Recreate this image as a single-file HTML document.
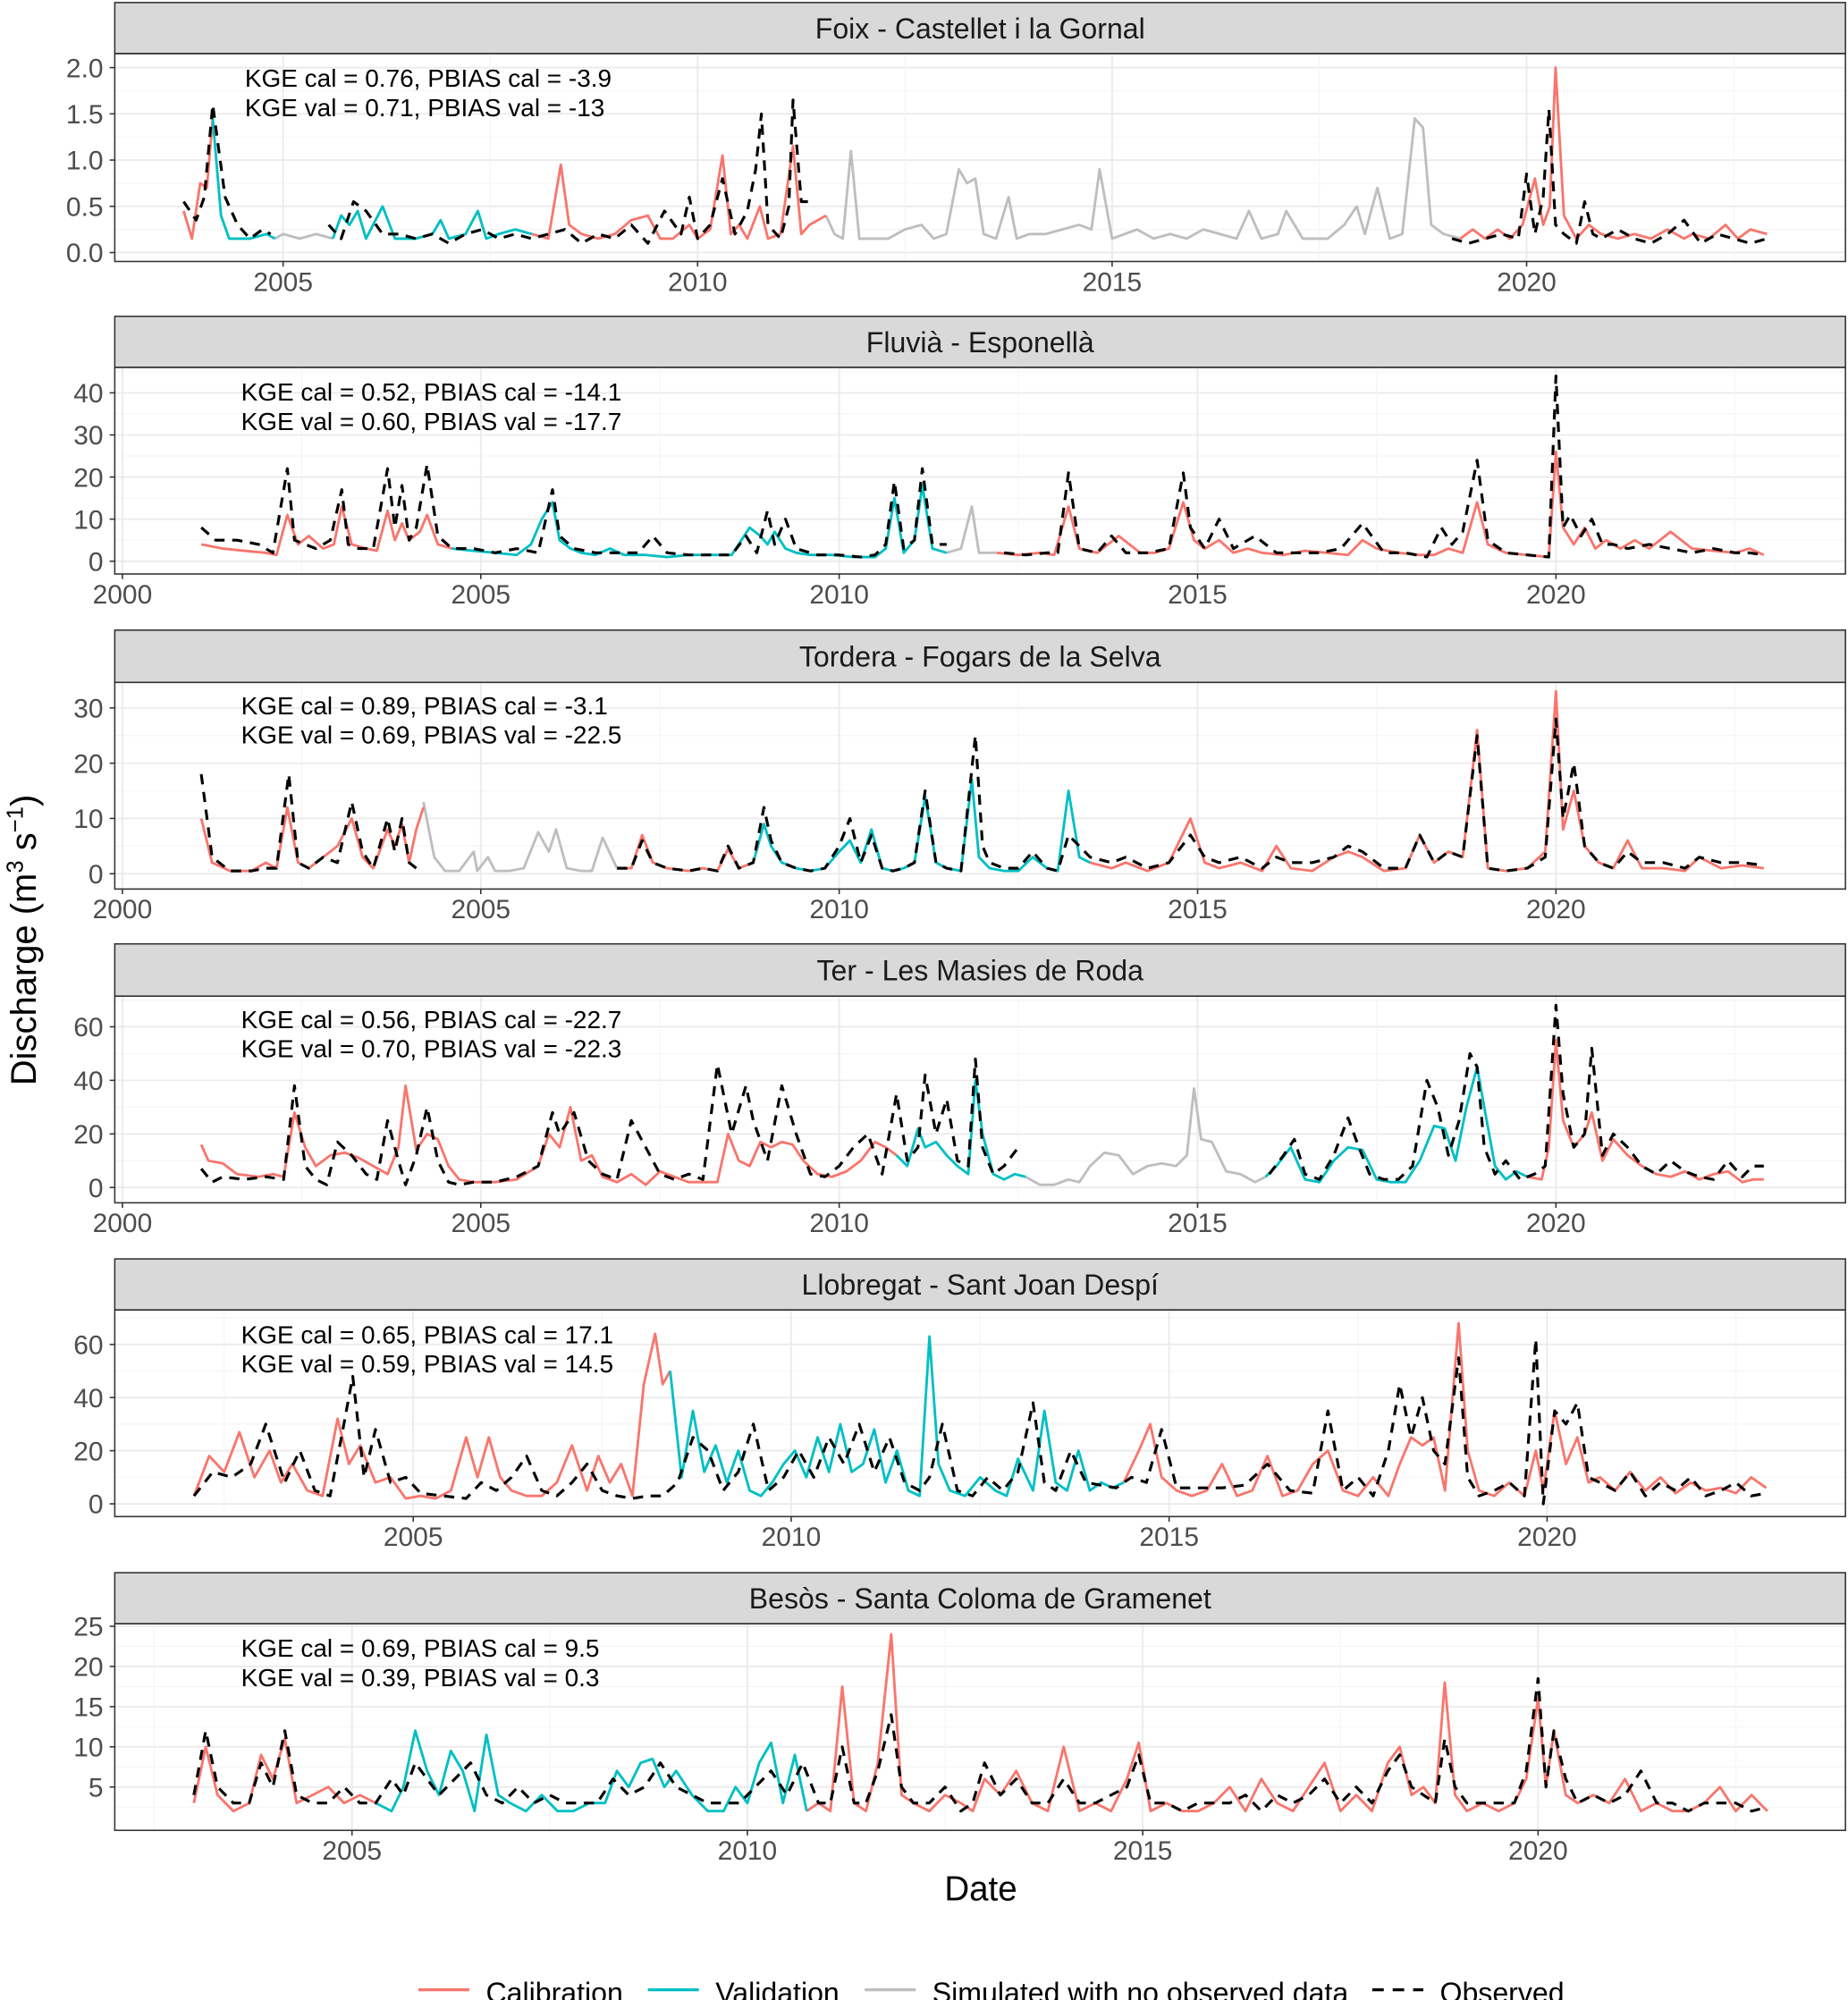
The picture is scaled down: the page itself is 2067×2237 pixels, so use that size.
<!DOCTYPE html>
<html><head><meta charset="utf-8"><style>
html,body{margin:0;padding:0;background:#fff;}
svg{display:block;font-family:"Liberation Sans",Arial,sans-serif;}
</style></head><body>
<svg id="chart" xmlns="http://www.w3.org/2000/svg" width="2067" height="2237" viewBox="0 0 1449 1568" preserveAspectRatio="none"></svg>
<script>
// ===== Data =====
const panelTitles = ["Foix - Castellet i la Gornal","Fluvià - Esponellà","Tordera - Fogars de la Selva","Ter - Les Masies de Roda","Llobregat - Sant Joan Despí","Besòs - Santa Coloma de Gramenet"];
const kgeCal = ["0.76","0.52","0.89","0.56","0.65","0.69"];
const pbiasCal = ["-3.9","-14.1","-3.1","-22.7","17.1","9.5"];
const kgeVal = ["0.71","0.60","0.69","0.70","0.59","0.39"];
const pbiasVal = ["-13","-17.7","-22.5","-22.3","14.5","0.3"];
const yTicks1 = [0,0.5,1,1.5,2];
const yTickLabels1 = ["0.0","0.5","1.0","1.5","2.0"];
const yTicks2 = [0,10,20,30,40];
const yTicks3 = [0,10,20,30];
const yTicks4 = [0,20,40,60];
const yTicks5 = [0,20,40,60];
const yTicks6 = [5,10,15,20,25];
const xTicksA = [2005,2010,2015,2020];
const xTicksB = [2000,2005,2010,2015,2020];

// Foix
const foixCalD=[2003.8,2003.9,2004.0,2004.08,2004.15,null,2008.0,2008.2,2008.35,2008.45,2008.6,2008.8,2009.0,2009.2,2009.4,2009.55,2009.7,2009.9,2010.0,2010.15,2010.3,2010.4,2010.5,2010.6,2010.75,2010.85,2011.0,2011.15,2011.25,2011.35,2011.45,2011.55,null,2019.2,2019.35,2019.5,2019.65,2019.8,2019.95,2020.1,2020.2,2020.28,2020.35,2020.45,2020.6,2020.75,2020.9,2021.1,2021.3,2021.5,2021.7,2021.9,2022.0,2022.2,2022.4,2022.55,2022.7,2022.9];
const foixCalV=[0.45,0.15,0.75,0.7,1.45,null,0.2,0.15,0.95,0.3,0.2,0.15,0.2,0.35,0.4,0.15,0.15,0.3,0.15,0.25,1.05,0.2,0.3,0.15,0.5,0.15,0.2,1.15,0.2,0.3,0.35,0.4,null,0.15,0.25,0.15,0.25,0.15,0.3,0.8,0.3,0.5,2.0,0.4,0.15,0.3,0.2,0.15,0.2,0.15,0.25,0.15,0.2,0.15,0.3,0.15,0.25,0.2];
const foixValD=[2004.15,2004.25,2004.35,2004.6,2004.8,2004.9,null,2005.6,2005.7,2005.8,2005.9,2006.0,2006.2,2006.35,2006.6,2006.8,2006.9,2007.0,2007.2,2007.35,2007.45,2007.6,2007.8,2008.0];
const foixValV=[1.45,0.4,0.15,0.15,0.2,0.15,null,0.15,0.4,0.3,0.45,0.15,0.5,0.15,0.15,0.2,0.35,0.15,0.2,0.45,0.15,0.2,0.25,0.2];
const foixGrayD=[2004.9,2005.0,2005.2,2005.4,2005.6,null,2011.55,2011.65,2011.75,2011.85,2011.95,2012.1,2012.3,2012.5,2012.7,2012.85,2013.0,2013.15,2013.25,2013.35,2013.45,2013.6,2013.75,2013.85,2014.0,2014.2,2014.4,2014.6,2014.75,2014.85,2015.0,2015.3,2015.5,2015.7,2015.9,2016.1,2016.3,2016.5,2016.65,2016.8,2017.0,2017.1,2017.3,2017.6,2017.8,2017.95,2018.05,2018.2,2018.35,2018.5,2018.65,2018.75,2018.85,2019.0,2019.2];
const foixGrayV=[0.15,0.2,0.15,0.2,0.15,null,0.4,0.2,0.15,1.1,0.15,0.15,0.15,0.25,0.3,0.15,0.2,0.9,0.75,0.8,0.2,0.15,0.6,0.15,0.2,0.2,0.25,0.3,0.25,0.9,0.15,0.25,0.15,0.2,0.15,0.25,0.2,0.15,0.45,0.15,0.2,0.45,0.15,0.15,0.3,0.5,0.2,0.7,0.15,0.2,1.45,1.35,0.3,0.2,0.15];
const foixObsD=[2003.8,2003.95,2004.05,2004.15,2004.3,2004.45,2004.6,2004.75,2004.85,null,2005.55,2005.7,2005.85,2006.0,2006.2,2006.4,2006.6,2006.8,2007.0,2007.2,2007.4,2007.6,2007.8,2008.0,2008.2,2008.4,2008.6,2008.8,2009.0,2009.2,2009.4,2009.6,2009.8,2009.9,2010.0,2010.15,2010.3,2010.45,2010.6,2010.7,2010.77,2010.85,2011.0,2011.1,2011.15,2011.25,2011.4,null,2019.1,2019.3,2019.5,2019.7,2019.9,2020.0,2020.1,2020.2,2020.27,2020.35,2020.45,2020.6,2020.7,2020.8,2020.9,2021.1,2021.3,2021.5,2021.7,2021.9,2022.1,2022.3,2022.5,2022.7,2022.9];
const foixObsV=[0.55,0.35,0.6,1.6,0.6,0.3,0.15,0.25,0.2,null,0.3,0.15,0.55,0.45,0.2,0.2,0.15,0.2,0.1,0.2,0.25,0.15,0.2,0.15,0.2,0.25,0.1,0.2,0.15,0.3,0.1,0.45,0.2,0.6,0.15,0.3,0.8,0.2,0.45,0.9,1.5,0.3,0.15,0.5,1.65,0.55,0.55,null,0.15,0.1,0.15,0.2,0.15,0.85,0.2,0.6,1.55,0.3,0.2,0.1,0.55,0.2,0.15,0.25,0.15,0.1,0.2,0.35,0.1,0.2,0.15,0.1,0.15];

// Fluvia
const fluCalD=[2001.1,2001.4,2001.7,2002.0,2002.15,2002.3,2002.45,2002.6,2002.8,2002.95,2003.06,2003.2,2003.4,2003.55,2003.7,2003.8,2003.9,2004.0,2004.15,2004.25,2004.4,2004.6,null,2012.2,2012.5,2012.8,2013.0,2013.2,2013.35,2013.6,2013.9,2014.2,2014.4,2014.6,2014.8,2014.95,2015.1,2015.3,2015.5,2015.7,2015.9,2016.2,2016.5,2016.8,2017.1,2017.3,2017.5,2017.8,2018.1,2018.3,2018.5,2018.7,2018.9,2019.05,2019.3,2019.6,2019.9,2020.0,2020.1,2020.25,2020.4,2020.55,2020.7,2020.9,2021.1,2021.3,2021.6,2021.9,2022.2,2022.5,2022.7,2022.9];
const fluCalV=[4,3,2.5,2,1.5,11,4,6,3,4,13,4,3,2.5,12,5,9,5,7,11,4,3,null,2,1.5,2,1.5,13,3,2,6,2,2,3,14,5,3,5,2,3,2,1.5,2.5,2,1.5,5,3,2,1.5,1.5,3,2,14,4,2,1.5,1,26,8,4,8,3,5,3,5,3,7,3,2.5,2,3,1.5];
const fluValD=[2004.6,2004.9,2005.2,2005.5,2005.7,2005.85,2006.0,2006.1,2006.25,2006.4,2006.6,2006.8,2007.0,2007.3,2007.6,2007.9,2008.2,2008.5,2008.75,2008.9,2009.0,2009.1,2009.25,2009.4,2009.6,2009.9,2010.2,2010.5,2010.65,2010.77,2010.9,2011.05,2011.16,2011.3,2011.5];
const fluValV=[3,2.5,2,1.5,4,10,14,5,3,2,1.5,3,1.5,1.5,1,1.5,1.5,1.5,8,6,4,7,3,2,1.5,1.5,1,1,3,15,2,5,18,3,2];
const fluGrayD=[2011.5,2011.7,2011.85,2011.95,2012.2];
const fluGrayV=[2,3,13,2,2];
const fluObsD=[2001.1,2001.3,2001.6,2001.9,2002.1,2002.3,2002.4,2002.55,2002.7,2002.9,2003.06,2003.15,2003.3,2003.5,2003.7,2003.8,2003.9,2004.0,2004.1,2004.25,2004.4,2004.6,2004.9,2005.2,2005.5,2005.8,2006.0,2006.1,2006.3,2006.6,2006.9,2007.2,2007.4,2007.6,2007.9,2008.2,2008.5,2008.7,2008.85,2009.0,2009.1,2009.25,2009.4,2009.7,2010.0,2010.3,2010.5,2010.65,2010.77,2010.9,2011.05,2011.16,2011.3,2011.5,null,2012.3,2012.6,2012.9,2013.05,2013.2,2013.35,2013.6,2013.8,2014.0,2014.3,2014.6,2014.8,2014.9,2015.1,2015.3,2015.5,2015.8,2016.1,2016.4,2016.7,2017.0,2017.3,2017.6,2017.9,2018.2,2018.4,2018.55,2018.7,2018.9,2019.05,2019.3,2019.6,2019.9,2020.0,2020.1,2020.2,2020.35,2020.5,2020.65,2020.8,2021.0,2021.3,2021.6,2021.9,2022.2,2022.5,2022.7,2022.9];
const fluObsV=[8,5,5,4,2,22,5,4,3,5,17,4,3,3,22,8,18,5,8,23,6,3,3,2,3,2,17,6,3,2,2,2,6,2,1.5,1.5,1.5,6,2,12,4,10,3,1.5,1.5,1,1.5,4,19,3,5,22,4,4,null,2,1.5,2,2,21,3,2,6,2,2,3,21,8,3,10,3,6,2,2,2,3,9,2,2,1,8,4,7,24,5,2,1.5,1,44,8,11,6,10,4,4,3,4,3,2,3,2,2,1.5];

// Tordera
const torCalD=[2001.1,2001.25,2001.5,2001.8,2002.0,2002.15,2002.3,2002.45,2002.6,2002.8,2003.0,2003.2,2003.35,2003.5,2003.7,2003.8,2003.9,2004.0,2004.1,2004.2,null,2006.9,2007.1,2007.25,2007.4,2007.6,2007.9,2008.1,2008.3,2008.45,2008.6,2008.8,null,2013.5,2013.8,2014.0,2014.3,2014.6,2014.9,2015.1,2015.3,2015.6,2015.9,2016.1,2016.3,2016.6,2016.9,2017.1,2017.3,2017.6,2017.9,2018.1,2018.3,2018.5,2018.7,2018.9,2019.05,2019.3,2019.6,2019.85,2020.0,2020.1,2020.25,2020.4,2020.6,2020.8,2021.0,2021.2,2021.5,2021.8,2022.0,2022.3,2022.6,2022.9];
const torCalV=[10,2,0.5,0.5,2,1,12,2,1,3,5,10,3,1,8,5,9,2,8,12,null,1,1,7,2,1,0.5,1,0.5,4.5,1,2,null,2,1,2,0.5,2,10,2,1,2,0.5,5,1,0.5,3,4,3,0.5,1,7,2,4,3,26,1,0.5,1,4,33,8,15,5,2,1,6,1,1,0.5,3,1,1.5,1];
const torValD=[2008.8,2008.95,2009.05,2009.2,2009.4,2009.6,2009.8,2010.0,2010.15,2010.3,2010.45,2010.6,2010.75,2010.9,2011.05,2011.2,2011.35,2011.5,2011.7,2011.85,2011.95,2012.1,2012.3,2012.5,2012.7,2012.9,2013.05,2013.2,2013.35,2013.5];
const torValV=[2,9,5,2,1,0.5,1,4,6,2,8,1,0.5,1,2,14,2,1,0.5,17,3,1,0.5,0.5,3,1,0.5,15,3,2];
const torGrayD=[2004.2,2004.35,2004.5,2004.7,2004.9,2004.95,2005.1,2005.2,2005.4,2005.6,2005.8,2005.95,2006.05,2006.2,2006.4,2006.55,2006.7,2006.9];
const torGrayV=[13,3,0.5,0.5,4,0.5,3,0.5,0.5,1,7.5,4,8,1,0.5,0.5,6.5,1];
const torObsD=[2001.1,2001.25,2001.5,2001.8,2002.0,2002.15,2002.32,2002.45,2002.6,2002.8,2003.0,2003.2,2003.35,2003.5,2003.7,2003.8,2003.9,2004.0,2004.1,null,2006.9,2007.1,2007.25,2007.4,2007.6,2007.9,2008.1,2008.3,2008.45,2008.6,2008.8,2008.95,2009.05,2009.2,2009.4,2009.6,2009.8,2010.0,2010.15,2010.3,2010.45,2010.6,2010.75,2010.9,2011.05,2011.2,2011.35,2011.5,2011.7,2011.9,2012.0,2012.1,2012.3,2012.5,2012.7,2012.9,2013.05,2013.2,2013.35,2013.5,2013.8,2014.0,2014.3,2014.6,2014.9,2015.1,2015.3,2015.6,2015.9,2016.1,2016.3,2016.6,2016.9,2017.1,2017.3,2017.6,2017.9,2018.1,2018.3,2018.5,2018.7,2018.9,2019.05,2019.3,2019.6,2019.85,2020.0,2020.1,2020.25,2020.4,2020.6,2020.8,2021.0,2021.2,2021.5,2021.8,2022.0,2022.3,2022.6,2022.9];
const torObsV=[18,3,0.5,0.5,1,1,18,2,1,3,2,13,4,1,10,4,10,2,1,null,1,1,6,2,1,0.5,1,0.5,5,1,2,12,6,2,1,0.5,1,5,10,2,7,1,0.5,1,2,15,2,1,0.5,25,5,2,1,1,4,1,0.5,7,5,3,2,3,1,2,7,3,2,3,1,3,2,2,3,5,4,1,1,7,2,4,3,25,1,0.5,1,3,28,10,20,5,2,1,4,2,2,1,3,2,2,1.5];

// Ter
const terCalD=[2001.1,2001.2,2001.4,2001.6,2001.9,2002.1,2002.25,2002.4,2002.55,2002.7,2002.9,2003.1,2003.3,2003.5,2003.7,2003.85,2003.95,2004.1,2004.25,2004.4,2004.55,2004.7,2004.9,2005.2,2005.5,2005.8,2005.95,2006.1,2006.25,2006.4,2006.55,2006.7,2006.9,2007.1,2007.3,2007.5,2007.7,2007.9,2008.1,2008.3,2008.45,2008.6,2008.75,2008.9,2009.05,2009.2,2009.35,2009.5,2009.7,2009.9,2010.1,2010.3,2010.5,2010.65,2010.8,null,2019.6,2019.8,2019.9,2020.0,2020.1,2020.25,2020.4,2020.5,2020.65,2020.8,2021.0,2021.2,2021.4,2021.6,2021.8,2022.0,2022.2,2022.4,2022.6,2022.75,2022.9];
const terCalV=[16,10,9,5,4,5,4,28,15,8,12,13,11,8,5,15,38,14,20,18,8,3,2,2,3,8,20,15,30,10,12,4,2,5,1,6,4,2,2,2,20,10,8,17,15,17,16,10,5,4,6,10,17,15,12,null,4,3,15,55,25,15,20,28,10,18,12,8,5,4,6,3,5,6,2,3,3];
const terValD=[2010.8,2010.95,2011.1,2011.2,2011.35,2011.5,2011.65,2011.8,2011.9,2012.0,2012.15,2012.3,2012.45,2012.6,null,2015.95,2016.1,2016.3,2016.5,2016.7,2016.9,2017.1,2017.3,2017.5,2017.7,2017.9,2018.1,2018.3,2018.45,2018.6,2018.75,2018.9,2019.0,2019.15,2019.3,2019.45,2019.6];
const terValV=[12,8,22,15,17,12,8,5,40,20,5,3,5,4,null,4,8,15,3,2,10,15,14,3,2,2,10,23,22,10,30,45,30,8,3,6,4];
const terGrayD=[2012.6,2012.8,2013.0,2013.2,2013.35,2013.5,2013.7,2013.9,2014.1,2014.3,2014.5,2014.7,2014.85,2014.95,2015.05,2015.2,2015.4,2015.6,2015.8,2015.95];
const terGrayV=[4,1,1,3,2,8,13,12,5,8,9,8,12,37,18,17,6,5,2,4];
const terObsD=[2001.1,2001.25,2001.4,2001.7,2002.0,2002.25,2002.4,2002.55,2002.7,2002.85,2003.0,2003.2,2003.4,2003.55,2003.7,2003.85,2003.95,2004.1,2004.25,2004.4,2004.55,2004.7,2004.9,2005.2,2005.5,2005.8,2006.0,2006.1,2006.3,2006.5,2006.7,2006.9,2007.1,2007.3,2007.5,2007.7,2007.9,2008.1,2008.3,2008.5,2008.7,2008.8,2009.0,2009.2,2009.4,2009.6,2009.8,2010.0,2010.2,2010.4,2010.6,2010.8,2010.95,2011.1,2011.2,2011.35,2011.5,2011.65,2011.8,2011.9,2012.0,2012.15,2012.3,2012.5,null,2016.0,2016.2,2016.35,2016.5,2016.7,2016.9,2017.1,2017.25,2017.4,2017.6,2017.8,2018.0,2018.2,2018.35,2018.5,2018.65,2018.8,2018.9,2019.0,2019.15,2019.3,2019.5,2019.7,2019.85,2020.0,2020.1,2020.25,2020.4,2020.5,2020.65,2020.8,2021.0,2021.2,2021.4,2021.6,2021.8,2022.0,2022.2,2022.4,2022.6,2022.75,2022.9];
const terObsV=[7,2,4,3,4,3,38,8,3,1,17,12,5,3,25,10,1,12,30,10,2,1,2,2,4,8,28,20,28,10,5,3,25,15,5,3,5,3,46,20,38,25,10,38,20,5,4,8,15,20,5,35,10,15,42,20,33,10,8,48,15,5,8,15,null,5,12,18,5,3,12,26,15,5,3,3,8,40,30,12,25,50,45,15,5,10,3,5,8,68,35,15,20,52,12,20,15,8,5,10,6,4,3,10,4,8,8];

// Llobregat
const lloCalD=[2002.1,2002.3,2002.5,2002.7,2002.9,2003.1,2003.25,2003.4,2003.6,2003.8,2004.0,2004.15,2004.3,2004.5,2004.7,2004.9,2005.1,2005.3,2005.5,2005.7,2005.85,2006.0,2006.15,2006.3,2006.5,2006.7,2006.9,2007.1,2007.3,2007.45,2007.6,2007.75,2007.9,2008.05,2008.2,2008.3,2008.4,null,2014.4,2014.6,2014.75,2014.9,2015.1,2015.3,2015.5,2015.7,2015.9,2016.1,2016.3,2016.5,2016.7,2016.9,2017.1,2017.3,2017.5,2017.7,2017.9,2018.05,2018.2,2018.35,2018.5,2018.65,2018.83,2018.95,2019.1,2019.3,2019.5,2019.7,2019.85,2019.95,2020.1,2020.25,2020.4,2020.55,2020.7,2020.9,2021.1,2021.3,2021.5,2021.7,2021.9,2022.1,2022.3,2022.5,2022.7,2022.9];
const lloCalV=[3,18,12,27,10,20,8,15,5,3,32,15,22,8,10,2,3,2,5,25,10,25,10,5,3,3,8,22,5,18,8,15,3,45,64,45,50,null,8,20,30,10,5,3,5,15,3,5,18,3,5,15,20,5,3,10,3,15,25,22,25,5,68,20,5,3,8,3,20,5,35,15,25,8,10,5,12,5,10,4,8,5,6,4,10,6];
const lloValD=[2008.4,2008.55,2008.7,2008.85,2009.0,2009.15,2009.3,2009.45,2009.6,2009.75,2009.9,2010.05,2010.2,2010.35,2010.5,2010.65,2010.8,2010.95,2011.1,2011.25,2011.4,2011.55,2011.7,2011.83,2011.95,2012.1,2012.3,2012.5,2012.7,2012.85,2013.0,2013.2,2013.35,2013.5,2013.65,2013.8,2013.95,2014.1,2014.25,2014.4];
const lloValV=[50,10,35,12,22,8,20,5,3,8,15,20,10,25,12,30,12,15,28,8,20,5,3,63,15,5,3,10,5,3,17,5,35,8,5,20,5,8,6,8];
const lloObsD=[2002.1,2002.35,2002.6,2002.85,2003.05,2003.3,2003.5,2003.7,2003.9,2004.05,2004.2,2004.35,2004.5,2004.7,2004.9,2005.1,2005.4,2005.7,2005.9,2006.1,2006.3,2006.5,2006.7,2006.9,2007.1,2007.3,2007.5,2007.7,2007.9,2008.1,2008.3,2008.5,2008.7,2008.9,2009.1,2009.3,2009.5,2009.7,2009.9,2010.1,2010.3,2010.5,2010.7,2010.9,2011.1,2011.3,2011.5,2011.7,2011.83,2012.0,2012.2,2012.4,2012.6,2012.8,2013.0,2013.2,2013.35,2013.5,2013.7,2013.9,2014.1,2014.3,2014.5,2014.7,2014.9,2015.1,2015.4,2015.7,2016.0,2016.3,2016.6,2016.9,2017.1,2017.3,2017.5,2017.7,2017.9,2018.05,2018.2,2018.35,2018.5,2018.65,2018.83,2018.95,2019.1,2019.3,2019.5,2019.7,2019.85,2019.95,2020.1,2020.25,2020.4,2020.55,2020.7,2020.9,2021.1,2021.3,2021.5,2021.7,2021.9,2022.1,2022.3,2022.5,2022.7,2022.9];
const lloObsV=[3,12,10,15,30,8,20,5,3,25,48,10,28,8,10,4,3,2,8,5,10,18,5,3,8,15,5,3,2,3,3,8,25,20,5,12,30,5,10,20,10,25,15,30,12,25,8,5,10,30,5,3,10,5,12,38,8,5,20,8,7,6,10,8,28,6,6,6,7,15,5,4,35,5,10,3,20,45,25,40,20,15,55,10,3,5,8,3,62,0,35,30,38,10,8,5,12,3,8,5,10,3,5,8,3,4];

// Besos
const besCalD=[2003.0,2003.15,2003.3,2003.5,2003.7,2003.85,2004.0,2004.15,2004.3,2004.5,2004.7,2004.9,2005.1,2005.3,null,2010.75,2010.9,2011.05,2011.2,2011.35,2011.5,2011.65,2011.82,2011.95,2012.1,2012.3,2012.5,2012.7,2012.85,2013.0,2013.2,2013.4,2013.6,2013.8,2014.0,2014.2,2014.4,2014.6,2014.8,2014.95,2015.1,2015.3,2015.5,2015.7,2015.9,2016.1,2016.3,2016.5,2016.7,2016.9,2017.1,2017.3,2017.5,2017.7,2017.9,2018.1,2018.25,2018.4,2018.55,2018.7,2018.82,2018.95,2019.1,2019.3,2019.5,2019.7,2019.85,2020.0,2020.1,2020.2,2020.35,2020.5,2020.7,2020.9,2021.1,2021.3,2021.5,2021.7,2021.9,2022.1,2022.3,2022.5,2022.7,2022.9];
const besCalV=[3,10,4,2,3,9,6,11,3,4,5,3,4,3,null,2,3,2,17.5,3,2,8,24,4,3,2,4,3,2,6,4,7,3,2,10,2,3,2,6,10.5,2,3,2,2,3,5,2,6,3,2,5,8,2,4,2,8,10,4,5,3,18,4,2,3,2,3,6,16,5,12,4,3,4,3,6,2,3,2,2,3,5,2,4,2];
const besValD=[2005.3,2005.5,2005.65,2005.8,2005.95,2006.1,2006.25,2006.4,2006.55,2006.7,2006.85,2007.0,2007.2,2007.4,2007.6,2007.8,2008.0,2008.2,2008.35,2008.5,2008.65,2008.8,2008.95,2009.1,2009.3,2009.5,2009.7,2009.85,2010.0,2010.15,2010.3,2010.45,2010.6,2010.75];
const besValV=[3,2,5,12,7,4,9.5,7,2,11.5,4,3,2,4,2,2,3,3,7,5,8,8.5,5,7,4,2,2,5,3,8,10.5,3,9,2];
const besObsD=[2003.0,2003.15,2003.3,2003.5,2003.7,2003.85,2004.0,2004.15,2004.3,2004.5,2004.7,2004.9,2005.1,2005.3,2005.5,2005.65,2005.8,2005.95,2006.1,2006.3,2006.5,2006.7,2006.9,2007.1,2007.3,2007.5,2007.7,2007.9,2008.1,2008.3,2008.5,2008.7,2008.9,2009.1,2009.3,2009.5,2009.7,2009.9,2010.1,2010.3,2010.5,2010.7,2010.9,2011.05,2011.2,2011.35,2011.5,2011.65,2011.82,2011.95,2012.1,2012.3,2012.5,2012.7,2012.85,2013.0,2013.2,2013.4,2013.6,2013.8,2014.0,2014.2,2014.4,2014.6,2014.8,2014.95,2015.1,2015.3,2015.5,2015.7,2015.9,2016.1,2016.3,2016.5,2016.7,2016.9,2017.1,2017.3,2017.5,2017.7,2017.9,2018.1,2018.25,2018.4,2018.55,2018.7,2018.82,2018.95,2019.1,2019.3,2019.5,2019.7,2019.85,2020.0,2020.1,2020.2,2020.35,2020.5,2020.7,2020.9,2021.1,2021.3,2021.5,2021.7,2021.9,2022.1,2022.3,2022.5,2022.7,2022.9];
const besObsV=[4,12,5,3,3,8,5,12,4,3,3,5,3,3,6,4,8,6,4,6,8,4,3,5,3,4,3,3,3,6,4,5,8,5,4,3,3,3,5,7,4,8,3,3,10,3,3,7,14,5,3,3,5,2,3,8,4,6,3,3,6,3,3,4,5,9,3,3,2,3,3,3,4,2,4,3,4,6,3,5,3,7,9,5,4,3,11,5,3,3,3,3,7,18.5,5,12,6,3,4,3,4,7,3,3,2,3,3,3,2,2.5];

// ===== Layout =====
const panels = [
 {st:2, pt:42, pb:205, xr:2005, xp:222, xs:65, y0:198, ys:72.5, yt:yTicks1, ytl:yTickLabels1, xt:xTicksA, ax:192,
  series:[[foixGrayD,foixGrayV,'gray'],[foixCalD,foixCalV,'cal'],[foixValD,foixValV,'val'],[foixObsD,foixObsV,'obs']]},
 {st:248, pt:288, pb:450, xr:2000, xp:96, xs:56.2, y0:440, ys:3.3, yt:yTicks2, xt:xTicksB, ax:189,
  series:[[fluGrayD,fluGrayV,'gray'],[fluCalD,fluCalV,'cal'],[fluValD,fluValV,'val'],[fluObsD,fluObsV,'obs']]},
 {st:494, pt:535, pb:697, xr:2000, xp:96, xs:56.2, y0:685, ys:4.333, yt:yTicks3, xt:xTicksB, ax:189,
  series:[[torGrayD,torGrayV,'gray'],[torCalD,torCalV,'cal'],[torValD,torValV,'val'],[torObsD,torObsV,'obs']]},
 {st:740, pt:781, pb:943, xr:2000, xp:96, xs:56.2, y0:931, ys:2.1, yt:yTicks4, xt:xTicksB, ax:189,
  series:[[terGrayD,terGrayV,'gray'],[terCalD,terCalV,'cal'],[terValD,terValV,'val'],[terObsD,terObsV,'obs']]},
 {st:987, pt:1027, pb:1189, xr:2005, xp:324, xs:59.27, y0:1179, ys:2.083, yt:yTicks5, xt:xTicksA, ax:189,
  series:[[lloCalD,lloCalV,'cal'],[lloValD,lloValV,'val'],[lloObsD,lloObsV,'obs']]},
 {st:1233, pt:1273, pb:1435, xr:2005, xp:276, xs:62, y0:1432.5, ys:6.3, yt:yTicks6, xt:xTicksA, ax:189,
  series:[[besCalD,besCalV,'cal'],[besValD,besValV,'val'],[besObsD,besObsV,'obs']]}
];
const X0=90, X1=1447;
const colors={cal:'#F8766D',val:'#00BFC4',gray:'#BEBEBE',obs:'#000000'};
const svg=document.getElementById('chart');
const NS='http://www.w3.org/2000/svg';
function mk(tag,attrs,parent){const e=document.createElementNS(NS,tag);for(const k in attrs)e.setAttribute(k,attrs[k]);(parent||svg).appendChild(e);return e;}

const defs=mk('defs',{});
panels.forEach((p,i)=>{
  const xScale=y=>p.xp+(y-p.xr)*p.xs;
  const yScale=v=>p.y0-v*p.ys;
  const g=mk('g',{});
  
  
  const cp=mk('clipPath',{id:'clip'+i},defs);
  mk('rect',{x:X0,y:p.pt,width:X1-X0,height:p.pb-p.pt},cp);
  const strip=mk('rect',{x:X0,y:p.st,width:X1-X0,height:p.pt-p.st,fill:'#D9D9D9',stroke:'#333333','stroke-width':1.1},g);
  
  
  const st=mk('text',{x:(X0+X1)/2,y:(p.st+p.pt)/2+8,'text-anchor':'middle','font-size':22.5,fill:'#1A1A1A'},g);
  st.textContent=panelTitles[i];
  
  
  const gg=mk('g',{'clip-path':'url(#clip'+i+')'},g);
  
  
  const step=p.yt[1]-p.yt[0];
  for(let k=0;k<p.yt.length;k++){
    const v=p.yt[k];
    mk('line',{x1:X0,x2:X1,y1:yScale(v),y2:yScale(v),stroke:'#EBEBEB','stroke-width':1.3},gg);
    for(const m of [v-step/2,v+step/2]){
      if(k>0&&m===v-step/2)continue;
      mk('line',{x1:X0,x2:X1,y1:yScale(m),y2:yScale(m),stroke:'#F5F5F5','stroke-width':0.8},gg);
    }
  }
  for(let yr=1995;yr<=2025;yr+=2.5){
    const major=(yr%5===0);
    mk('line',{x1:xScale(yr),x2:xScale(yr),y1:p.pt,y2:p.pb,stroke:major?'#EBEBEB':'#F5F5F5','stroke-width':major?1.3:0.8},gg);
  }
  const sg=mk('g',{'clip-path':'url(#clip'+i+')'},g);
  p.series.forEach(s=>{
    const D=s[0],V=s[1],t=s[2];
    const n=Math.min(D.length,V.length);
    let d='',pen=false;
    for(let j=0;j<n;j++){
      if(D[j]===null||V[j]===null){pen=false;continue;}
      d+=(pen?'L':'M')+xScale(D[j]).toFixed(1)+','+yScale(V[j]).toFixed(1);
      pen=true;
    }
    const path=mk('path',{d:d,fill:'none',stroke:colors[t],'stroke-width':t==='obs'?2.2:2,'stroke-linejoin':'round'},sg);
    if(t==='obs')path.setAttribute('stroke-dasharray','8,6');
    
    
  });
  mk('rect',{x:X0,y:p.pt,width:X1-X0,height:p.pb-p.pt,fill:'none',stroke:'#333333','stroke-width':1.1},g);
  p.yt.forEach((v,k)=>{
    const y=yScale(v);
    mk('line',{x1:X0-4,x2:X0,y1:y,y2:y,stroke:'#333','stroke-width':1.1},g);
    const t=mk('text',{x:X0-9,y:y+7.5,'text-anchor':'end','font-size':21,fill:'#4D4D4D'},g);
    t.textContent=p.ytl?p.ytl[k]:String(v);
    
    
  });
  p.xt.forEach(yr=>{
    const x=xScale(yr);
    mk('line',{x1:x,x2:x,y1:p.pb,y2:p.pb+4,stroke:'#333','stroke-width':1.1},g);
    const t=mk('text',{x:x,y:p.pb+23,'text-anchor':'middle','font-size':21,fill:'#4D4D4D'},g);
    t.textContent=String(yr);
    
    
  });
  const a1=mk('text',{x:p.ax,y:p.st+66,'font-size':19.6,fill:'#000'},g);
  a1.textContent='KGE cal = '+kgeCal[i]+', PBIAS cal = '+pbiasCal[i];
  
  
  const a2=mk('text',{x:p.ax,y:p.st+89,'font-size':19.6,fill:'#000'},g);
  a2.textContent='KGE val = '+kgeVal[i]+', PBIAS val = '+pbiasVal[i];
  
  
});
</script>
<script>
(function(){
  const svg=document.getElementById('chart');const NS='http://www.w3.org/2000/svg';
  function mk(tag,attrs){const e=document.createElementNS(NS,tag);for(const k in attrs)e.setAttribute(k,attrs[k]);svg.appendChild(e);return e;}
  const xt=mk('text',{x:769,y:1490,'text-anchor':'middle','font-size':27,fill:'#000'});
  xt.textContent='Date';
  
  
  const yt=mk('text',{x:0,y:0,'text-anchor':'middle','font-size':28,fill:'#000',transform:'translate(28,737) rotate(-90)'});
  
  
  yt.innerHTML='Discharge (m<tspan dy="-10" font-size="18">3</tspan><tspan dy="10"> s</tspan><tspan dy="-10" font-size="18">−1</tspan><tspan dy="10">)</tspan>';
  const items=[['Calibration','#F8766D',328,false],['Validation','#00BFC4',508,false],['Simulated with no observed data','#BEBEBE',678,false],['Observed','#000',1076,true]];
  items.forEach(it=>{
    const l=mk('line',{x1:it[2],x2:it[2]+40,y1:1560,y2:1560,stroke:it[1],'stroke-width':2.4});
    if(it[3])l.setAttribute('stroke-dasharray','9,7');
    
    
    const t=mk('text',{x:it[2]+53,y:1570,'font-size':22.5,fill:'#000'});
    t.textContent=it[0];
    
    
  });
})();
</script>
</body></html>
